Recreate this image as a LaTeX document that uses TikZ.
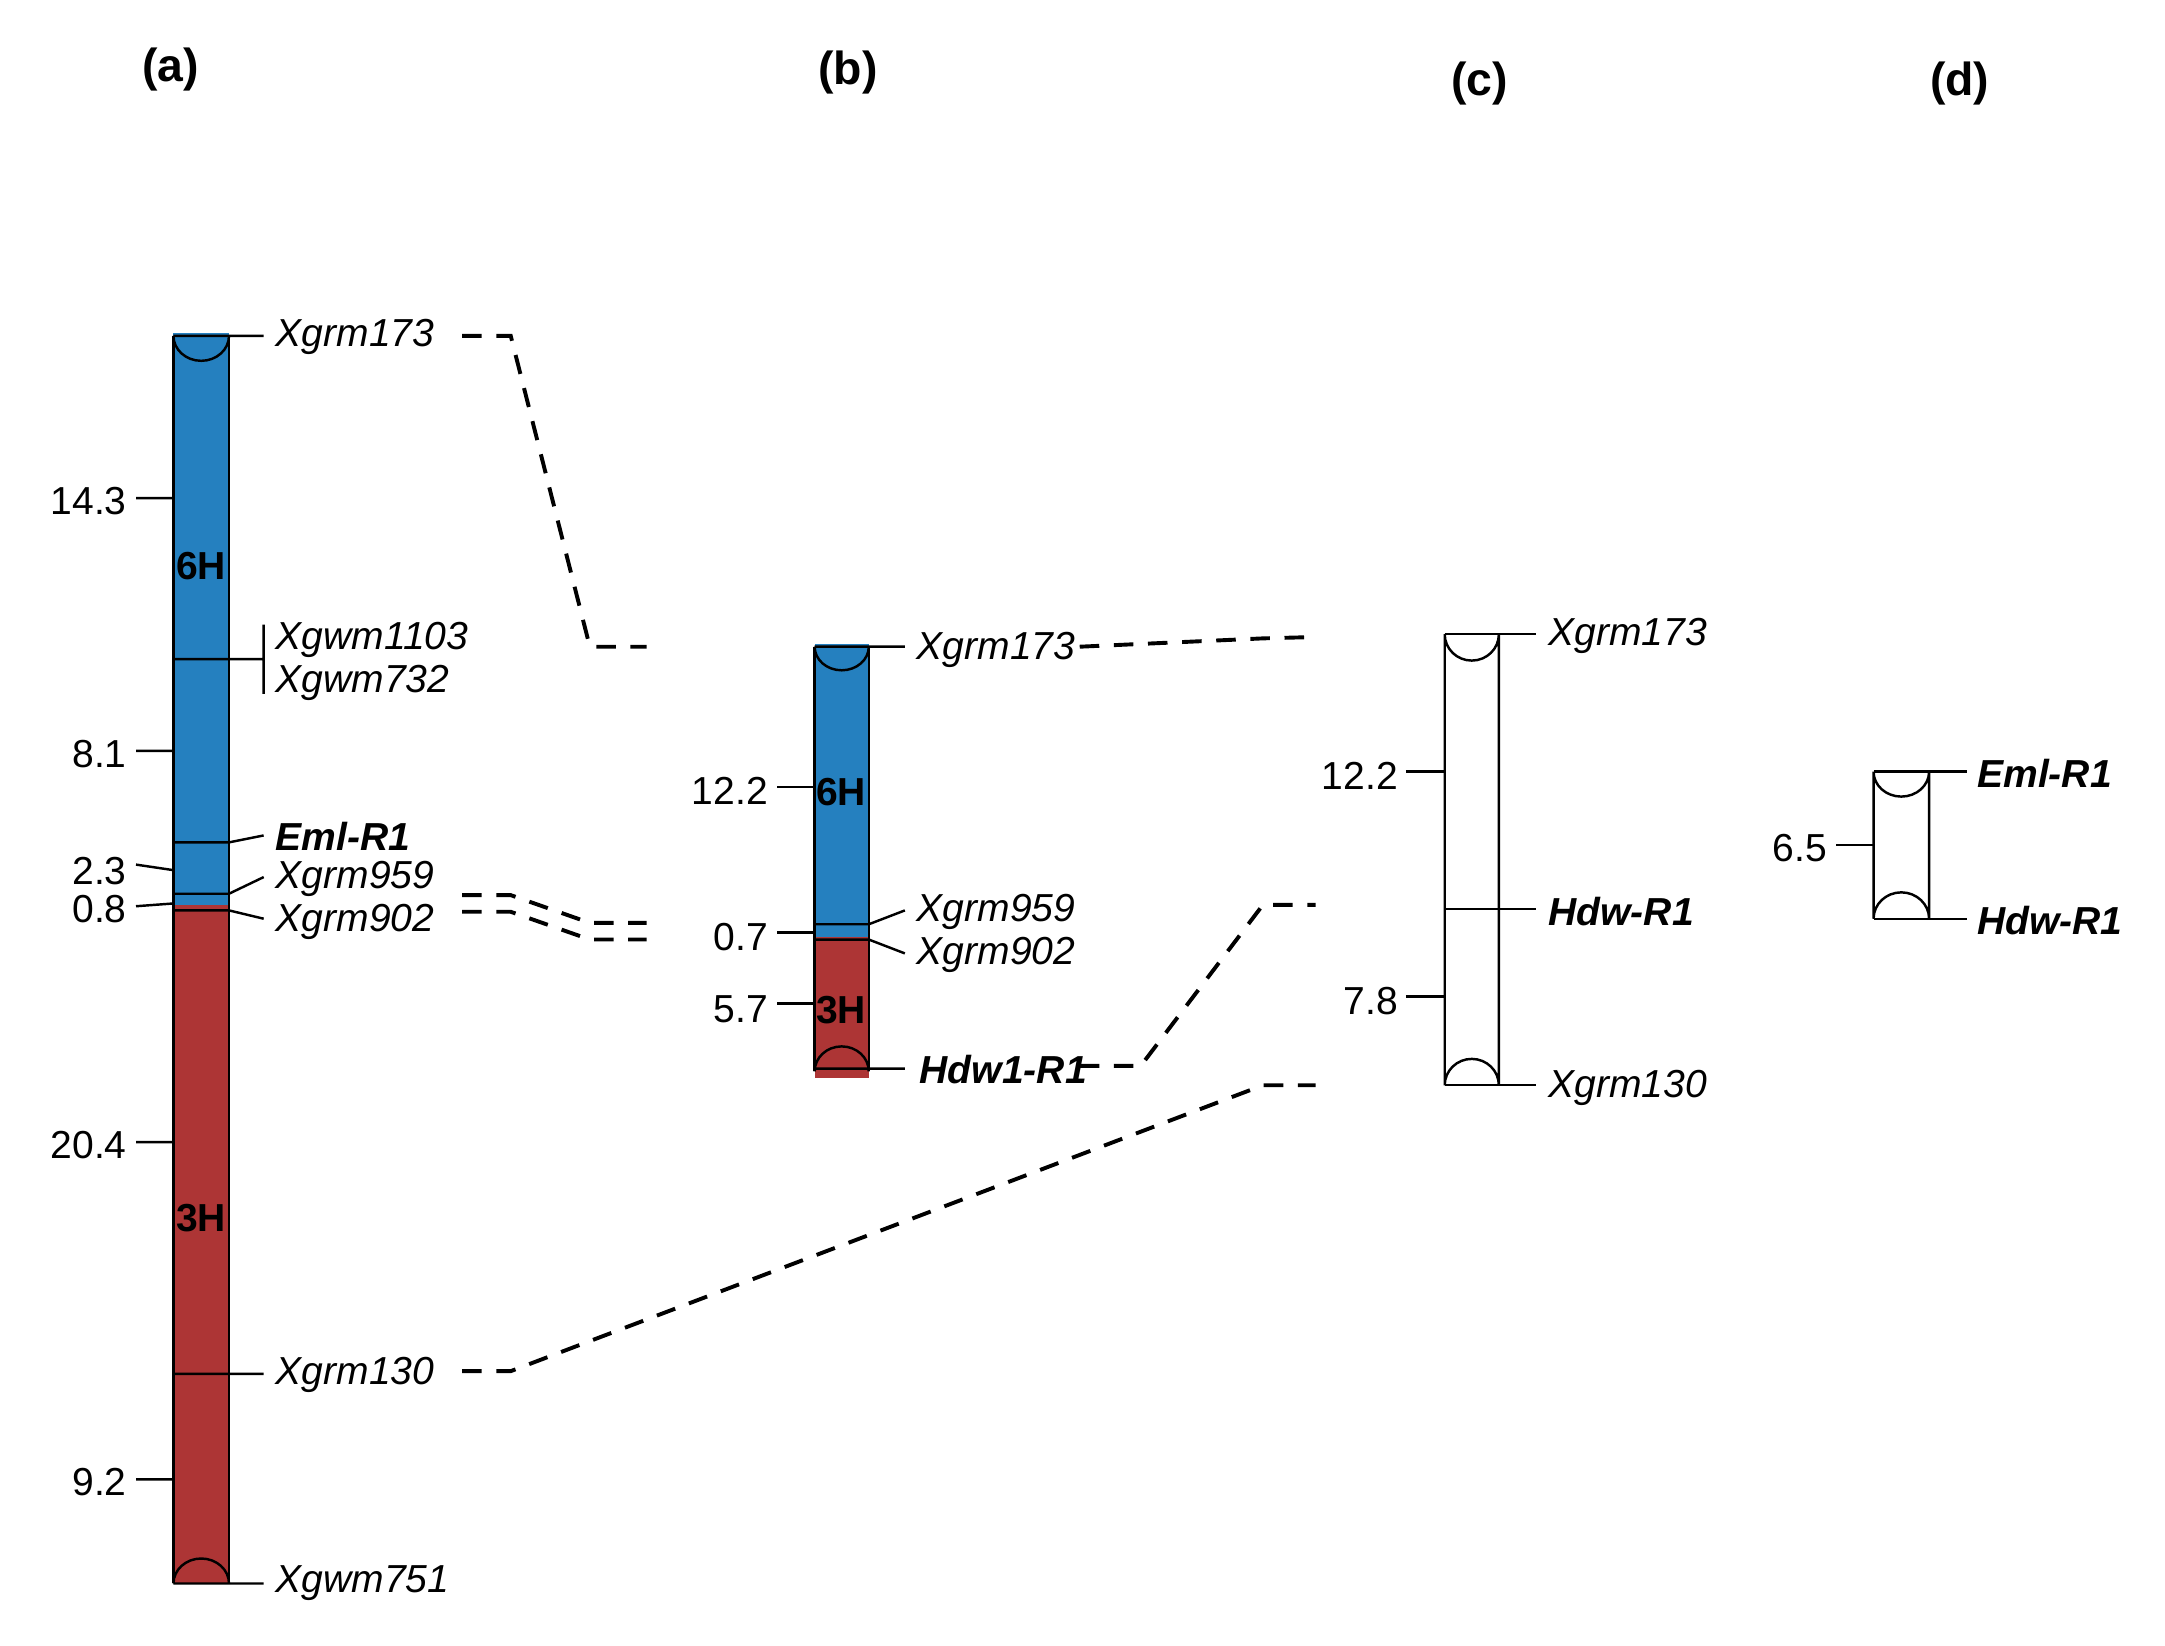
\documentclass[tikz,border=0pt]{standalone}
\usepackage{fontspec}
\setmainfont{Liberation Sans}
\begin{document}
\begin{tikzpicture}[x=0.01cm,y=-0.01cm,
  lbl/.style={anchor=west,inner sep=0pt,font=\fontsize{8}{9}\selectfont\itshape},
  blbl/.style={anchor=west,inner sep=0pt,font=\fontsize{8}{9}\selectfont\bfseries\itshape},
  num/.style={anchor=east,inner sep=0pt,font=\fontsize{8}{9}\selectfont},
  ttl/.style={inner sep=0pt,font=\fontsize{9.5}{11}\selectfont\bfseries},
  chr/.style={inner sep=0pt,font=\fontsize{8}{9}\selectfont\bfseries},
  tk/.style={line width=0.5pt},
  dsh/.style={dashed,line width=0.8pt,dash pattern=on 4pt off 3pt}]
\definecolor{cblue}{HTML}{2580BF}
\definecolor{cred}{HTML}{AD3535}
\useasboundingbox (0,0) rectangle (1560,1186);
% titles
\node[ttl] (ta) at (123,50) {(a)};
\node[ttl] (tb) at (611,52) {(b)};
\node[ttl] (tc) at (1066,60) {(c)};
\node[ttl] (td) at (1412,60) {(d)};
% ---- (a)
\fill[cblue] (125,240) rectangle (165,652);
\fill[cred] (125,652) rectangle (165,1141);
\draw[tk] (125,242) arc(180:0:20 and 18) -- (165,242);
\draw[tk] (125,1141) arc(180:360:20 and 18);
\draw[tk] (125,242) -- (125,1141) (165,242) -- (165,1141);
\draw[tk] (125,242)--(190,242) (125,475)--(190,475) (190,450)--(190,500)
  (125,607)--(165,607)--(190,602) (125,644)--(165,644)--(190,632)
  (125,656)--(165,656)--(190,662) (125,990)--(190,990) (125,1141)--(190,1141);
\draw[tk] (98,359)--(125,359) (98,541)--(125,541) (98,623)--(125,627)
  (98,653)--(125,651) (98,823)--(125,823) (98,1066)--(125,1066);
\node[num] (a1) at (92,361) {14.3};
\node[num] (a2) at (92,543) {8.1};
\node[num] (a3) at (92,628) {2.3};
\node[num] (a4) at (92,655) {0.8};
\node[num] (a5) at (92,825) {20.4};
\node[num] (a6) at (92,1068) {9.2};
\node[chr] (a6h) at (145,408) {6H};
\node[chr] (a3h) at (145,878) {3H};
\node[lbl] (am1) at (198,243) {Xgrm173};
\node[lbl] (am2) at (198,461) {Xgwm1103};
\node[lbl] (am3) at (198,492) {Xgwm732};
\node[blbl] (am4) at (198,603) {Eml-R1};
\node[lbl] (am5) at (198,633) {Xgrm959};
\node[lbl] (am6) at (198,664) {Xgrm902};
\node[lbl] (am7) at (198,991) {Xgrm130};
\node[lbl] (am8) at (198,1141) {Xgwm751};
% ---- (b)
\fill[cblue] (587,464) rectangle (626,675);
\fill[cred] (587,675) rectangle (626,777);
\draw[tk] (587,466) arc(180:0:19.5 and 17);
\draw[tk] (587,772) arc(180:360:19.5 and 18);
\draw[tk] (587,466) -- (587,772) (626,466) -- (626,772);
\draw[tk] (587,466)--(652,466) (587,666)--(626,666)--(652,656)
  (587,677)--(626,677)--(652,687) (587,770)--(652,770);
\draw[tk] (560,567)--(587,567) (560,672)--(587,672) (560,723)--(587,723);
\node[num] (b1) at (554,570) {12.2};
\node[num] (b2) at (554,675) {0.7};
\node[num] (b3) at (554,727) {5.7};
\node[chr] (b6h) at (606,571) {6H};
\node[chr] (b3h) at (606,728) {3H};
\node[lbl] (bm1) at (660,468) {Xgrm173};
\node[lbl] (bm2) at (660,657) {Xgrm959};
\node[lbl] (bm3) at (660,688) {Xgrm902};
\node[blbl] (bm4) at (662,771) {Hdw1-R1};
% ---- (c)
\draw[tk] (1041,457) arc(180:0:19.5 and 19) -- (1080,782) arc(0:-180:19.5 and 19) -- cycle;
\draw[tk] (1041,457)--(1107,457) (1041,655)--(1107,655) (1041,782)--(1107,782);
\draw[tk] (1013,556)--(1041,556) (1013,718)--(1041,718);
\node[num] (c1) at (1008,559) {12.2};
\node[num] (c2) at (1008,721) {7.8};
\node[lbl] (cm1) at (1115,458) {Xgrm173};
\node[blbl] (cm2) at (1115,657) {Hdw-R1};
\node[lbl] (cm3) at (1115,784) {Xgrm130};
% ---- (d)
\draw[tk] (1350,556) arc(180:0:20 and 18) -- (1390,662) arc(0:-180:20 and 19) -- cycle;
\draw[tk] (1350,556)--(1417,556) (1350,662)--(1417,662);
\draw[tk] (1323,609)--(1350,609);
\node[num] (d1) at (1317,611) {6.5};
\node[blbl] (dm1) at (1424,557) {Eml-R1};
\node[blbl] (dm2) at (1424,663) {Hdw-R1};
% ---- connectors
\coordinate (ea1) at (333,242); \coordinate (eb1) at (466,466);
\coordinate (ea5) at (333,645); \coordinate (eb5) at (466,665);
\coordinate (ea6) at (333,657); \coordinate (eb6) at (466,677);
\coordinate (ea7) at (333,988); \coordinate (ec7) at (948,782);
\coordinate (fb1) at (778,466); \coordinate (fc1) at (948,459);
\coordinate (fb4) at (778,768); \coordinate (fc4) at (948,652);
\draw[dsh] (ea1) -- (368,242) -- (425,466) -- (eb1);
\draw[dsh] (ea5) -- (368,645) -- (425,665) -- (eb5);
\draw[dsh] (ea6) -- (368,657) -- (425,677) -- (eb6);
\draw[dsh] (ea7) -- (368,988) -- (910,782) -- (ec7);
\draw[dsh] (fb1) -- (910,460) -- (fc1);
\draw[dsh] (fb4) -- (822,768) -- (910,652) -- (fc4);
\end{tikzpicture}
\end{document}
